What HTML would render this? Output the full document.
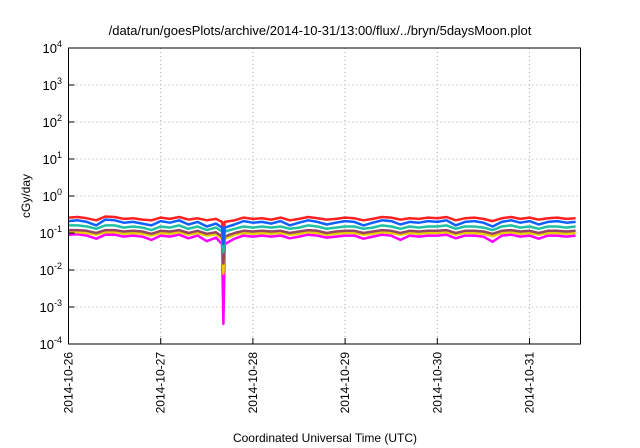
<!DOCTYPE html>
<html><head><meta charset="utf-8"><style>
html,body{margin:0;padding:0;background:#fff;}
svg{display:block;font-family:"Liberation Sans",sans-serif;}
</style></head><body>
<svg id="chart" width="640" height="448" viewBox="0 0 640 448">
<text x="320" y="35" text-anchor="middle" font-size="13">/data/run/goesPlots/archive/2014-10-31/13:00/flux/../bryn/5daysMoon.plot</text>
<g id="grid"></g>
<g id="series"></g>
<rect x="68.5" y="48" width="512" height="296" fill="none" stroke="#000" stroke-width="1"/>
<g id="axes"></g>
<text transform="translate(30,196) rotate(-90)" text-anchor="middle" font-size="12">cGy/day</text>
<text x="325" y="442" text-anchor="middle" font-size="12">Coordinated Universal Time (UTC)</text>
</svg>
<script>
const xTickLabels=["2014-10-26","2014-10-27","2014-10-28","2014-10-29","2014-10-30","2014-10-31"];
const yTickExps=[4,3,2,1,0,-1,-2,-3,-4];
const times=[0,0.1,0.2,0.3,0.4,0.5,0.6,0.7,0.8,0.9,1.0,1.1,1.2,1.3,1.4,1.5,1.6,1.665,1.68,1.695,1.8,1.9,2.0,2.1,2.2,2.3,2.4,2.5,2.6,2.7,2.8,2.9,3.0,3.1,3.2,3.3,3.4,3.5,3.6,3.7,3.8,3.9,4.0,4.1,4.2,4.3,4.4,4.5,4.6,4.7,4.8,4.9,5.0,5.1,5.2,5.3,5.4,5.5];
const red=[0.26,0.27,0.25,0.22,0.28,0.27,0.24,0.25,0.23,0.22,0.26,0.24,0.27,0.23,0.25,0.22,0.24,0.2,0.1,0.2,0.22,0.26,0.24,0.25,0.23,0.26,0.22,0.24,0.27,0.25,0.23,0.24,0.26,0.25,0.22,0.24,0.27,0.26,0.23,0.25,0.24,0.26,0.25,0.27,0.22,0.25,0.26,0.24,0.21,0.25,0.27,0.24,0.26,0.23,0.25,0.26,0.24,0.25];
const blue=[0.21,0.22,0.2,0.16,0.23,0.22,0.19,0.2,0.18,0.16,0.21,0.19,0.22,0.17,0.2,0.15,0.18,0.14,0.05,0.14,0.17,0.21,0.19,0.2,0.18,0.21,0.16,0.19,0.22,0.2,0.17,0.19,0.21,0.2,0.16,0.19,0.22,0.21,0.17,0.2,0.19,0.21,0.2,0.22,0.16,0.2,0.21,0.19,0.15,0.2,0.22,0.19,0.21,0.17,0.2,0.21,0.19,0.2];
const teal=[0.16,0.16,0.15,0.13,0.16,0.16,0.14,0.15,0.14,0.12,0.15,0.14,0.16,0.13,0.15,0.12,0.14,0.11,0.03,0.11,0.13,0.15,0.14,0.15,0.14,0.15,0.13,0.14,0.16,0.15,0.13,0.14,0.15,0.15,0.13,0.14,0.16,0.15,0.13,0.15,0.14,0.15,0.15,0.16,0.13,0.15,0.15,0.14,0.12,0.15,0.16,0.14,0.15,0.13,0.15,0.15,0.14,0.15];
const purple=[0.12,0.12,0.115,0.1,0.12,0.12,0.11,0.115,0.11,0.095,0.115,0.11,0.12,0.1,0.115,0.095,0.105,0.08,0.015,0.08,0.1,0.115,0.11,0.115,0.11,0.115,0.1,0.11,0.12,0.115,0.1,0.11,0.115,0.115,0.1,0.11,0.12,0.115,0.1,0.115,0.11,0.115,0.115,0.12,0.1,0.115,0.115,0.11,0.095,0.115,0.12,0.11,0.115,0.1,0.115,0.115,0.11,0.115];
const yellow=[0.105,0.105,0.1,0.09,0.105,0.105,0.095,0.1,0.095,0.085,0.1,0.095,0.105,0.09,0.1,0.085,0.092,0.07,0.008,0.07,0.09,0.1,0.095,0.1,0.095,0.1,0.09,0.095,0.105,0.1,0.09,0.095,0.1,0.1,0.09,0.095,0.105,0.1,0.09,0.1,0.095,0.1,0.1,0.105,0.09,0.1,0.1,0.095,0.082,0.1,0.105,0.095,0.1,0.09,0.1,0.1,0.095,0.1];
const magenta=[0.09,0.092,0.085,0.07,0.09,0.09,0.08,0.085,0.08,0.065,0.085,0.08,0.09,0.072,0.085,0.06,0.075,0.05,0.00035,0.05,0.07,0.085,0.08,0.085,0.08,0.085,0.072,0.08,0.09,0.085,0.075,0.08,0.085,0.085,0.07,0.08,0.09,0.085,0.065,0.085,0.08,0.085,0.085,0.09,0.072,0.085,0.085,0.08,0.058,0.085,0.09,0.08,0.085,0.07,0.085,0.085,0.08,0.085];
const seriesList=[["series-magenta",magenta,"#ff00ff"],["series-yellow",yellow,"#e8d000"],["series-purple",purple,"#994466"],["series-teal",teal,"#20c0a0"],["series-red",red,"#ff2020"],["series-blue",blue,"#1060ff"]];
const X0=68.5,PXD=92.2,YT=48,YB=344;
function xs(d){return X0+d*PXD;}
function ys(v){return YT+(4-Math.log10(v))*(YB-YT)/8;}
const NS="http://www.w3.org/2000/svg";
const grid=document.getElementById('grid'),axes=document.getElementById('axes'),sg=document.getElementById('series');
function mk(t,a,p){const e=document.createElementNS(NS,t);for(const k in a)e.setAttribute(k,a[k]);p.appendChild(e);return e;}
yTickExps.forEach(ex=>{
 const y=ys(Math.pow(10,ex));
 if(ex<4&&ex>-4){const g=mk('line',{x1:X0,x2:580.5,y1:y,y2:y,stroke:'#aaa','stroke-dasharray':'1,3'},grid);
 
 }
 const tk=mk('line',{x1:X0,x2:X0+6,y1:y,y2:y,stroke:'#000'},axes);
 
 
 const t=mk('text',{x:62,y:y+5,'text-anchor':'end','font-size':'13'},axes);
 
 
 t.textContent='10';
 const s=mk('tspan',{dy:-6,'font-size':'9'},t);s.textContent=String(ex);
});
xTickLabels.forEach((lab,i)=>{
 const x=xs(i);
 if(i>0){const g=mk('line',{x1:x,x2:x,y1:YT,y2:YB,stroke:'#aaa','stroke-dasharray':'1,3'},grid);
 
 }
 const tk=mk('line',{x1:x,x2:x,y1:YB,y2:YB-6,stroke:'#000'},axes);
 
 
 const t=mk('text',{transform:`translate(${x+4},352) rotate(-90)`,'text-anchor':'end','font-size':'12'},axes);
 
 
 t.textContent=lab;
});
seriesList.forEach(([name,vals,col])=>{
 const d=vals.map((v,i)=>(i?'L':'M')+xs(times[i]).toFixed(1)+','+ys(v).toFixed(1)).join('');
 const p=mk('path',{d:d,fill:'none',stroke:col,'stroke-width':2.5,'stroke-linejoin':'round'},sg);
 
 
});
</script>
</body></html>
